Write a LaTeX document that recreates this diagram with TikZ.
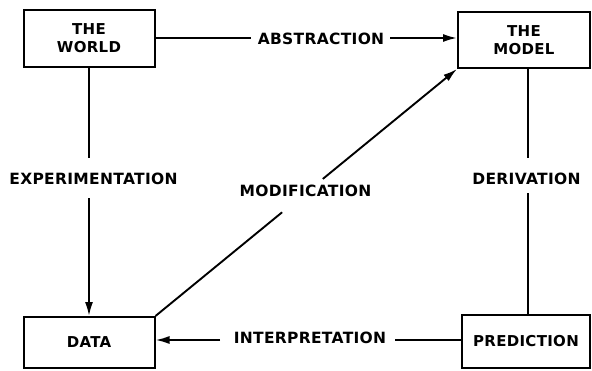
\documentclass[tikz,border=0pt]{standalone}
\usepackage{fontspec}
\setmainfont{DejaVu Sans}[LetterSpace=2]
\usetikzlibrary{arrows.meta,calc}
\begin{document}
\begin{tikzpicture}[x=1pt,y=-1pt,
  box/.style={draw,line width=2pt,inner sep=0pt,align=center,
    font=\fontsize{15}{18}\selectfont\bfseries},
  lbl/.style={inner sep=0pt,font=\fontsize{15.5}{18}\selectfont\bfseries},
  conn/.style={line width=1.9pt},
  arr/.style={conn,-{Latex[length=14pt,width=8pt]}}]
\useasboundingbox (0,0) rectangle (592,370);
\fill[white] (0,0) rectangle (592,370);
% boxes
\node[box,minimum width=131pt,minimum height=57pt] (world) at (89,38.5) {THE\\WORLD};
\node[box,minimum width=132pt,minimum height=56pt] (model) at (524,40) {THE\\MODEL};
\node[box,minimum width=131pt,minimum height=51pt] (data) at (89,342.5) {DATA};
\node[box,minimum width=128pt,minimum height=53pt] (pred) at (526,341.5) {PREDICTION};
% labels
\node[lbl] (abs) at (321,39) {ABSTRACTION};
\node[lbl] (exp) at (93.5,179) {EXPERIMENTATION};
\node[lbl] (der) at (526.5,179) {DERIVATION};
\node[lbl] (mod) at (305.5,191) {MODIFICATION};
\node[lbl] (int) at (310,338) {INTERPRETATION};
% free ends of connectors
\coordinate (a1) at (251,38);
\coordinate (a2) at (390,38);
\coordinate (e1) at (89,158);
\coordinate (e2) at (89,198);
\coordinate (d1) at (528,158);
\coordinate (d2) at (528,193);
\coordinate (i1) at (220,340);
\coordinate (i2) at (395,340);
% connectors
\draw[conn] (world.east |- a1) -- (a1);
\draw[arr] (a2) -- (model.west |- a2);
\draw[conn] (world.south) -- (e1);
\draw[arr] (e2) -- (data.north);
\draw[conn] (model.south -| d1) -- (d1);
\draw[conn] (d2) -- (pred.north -| d2);
\draw[conn] (pred.west |- i2) -- (i2);
\draw[arr] (i1) -- (data.east |- i1);
\draw[conn] (data.north east) -- ($(data.north east)!0.42!(model.south west)$);
\draw[arr] ($(data.north east)!0.555!(model.south west)$) -- (model.south west);
\end{tikzpicture}
\end{document}
